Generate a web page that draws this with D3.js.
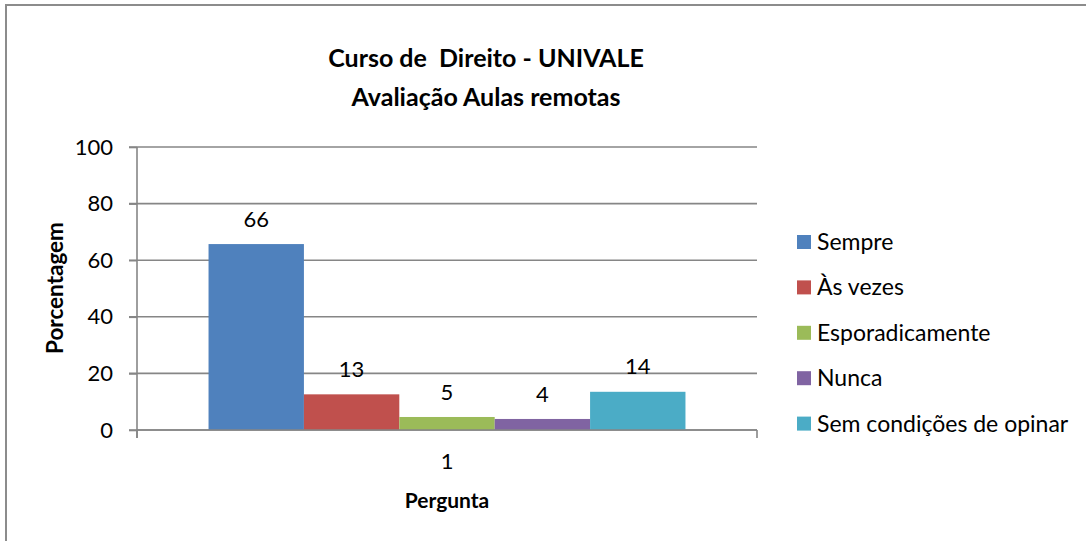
<!DOCTYPE html>
<html>
<head>
<meta charset="utf-8">
<script src="https://cdn.jsdelivr.net/npm/d3@7"></script>
<style>
  html, body { margin: 0; padding: 0; background: #fff; }
  svg { display: block; font-family: Lato, "Open Sans", sans-serif; }
</style>
</head>
<body>
<svg id="chart" width="1086" height="541"></svg>
<script>
const categories = ["1"];
const seriesNames = ["Sempre", "Às vezes", "Esporadicamente", "Nunca", "Sem condições de opinar"];
const seriesValues = [65.7, 12.6, 4.6, 3.9, 13.5];
const seriesLabels = ["66", "13", "5", "4", "14"];
const seriesColors = ["#4f81bd", "#c0504d", "#9bbb59", "#8064a2", "#4bacc6"];
const yTicks = [0, 20, 40, 60, 80, 100];
const titleLines = ["Curso de  Direito - UNIVALE", "Avaliação Aulas remotas"];
const yTitle = "Porcentagem";
const xTitle = "Pergunta";

(function () {
const svg = d3.select("#chart");
const gridColor = "#868686";

// outer border
svg.append("rect").attr("x", 6).attr("y", 5).attr("width", 1200).attr("height", 600)
  .attr("fill", "none").attr("stroke", "#8c8c8c").attr("stroke-width", 2);

const pLeft = 137, pRight = 757, pTop = 147, pBottom = 430;
const y = d3.scaleLinear().domain([0, 100]).range([pBottom, pTop]);
const x0 = d3.scaleBand().domain(categories).range([pLeft, pRight]).paddingInner(0).paddingOuter(0.15);
const x1 = d3.scaleBand().domain(seriesNames).range([0, x0.bandwidth()]).padding(0);

// gridlines
svg.append("g").selectAll("line").data(yTicks).join("line")
  .attr("x1", pLeft - 8).attr("x2", pRight)
  .attr("y1", d => y(d)).attr("y2", d => y(d))
  .attr("stroke", gridColor).attr("stroke-width", 1.6);

// y axis
const yAxis = svg.append("g").attr("transform", `translate(${pLeft},0)`)
  .call(d3.axisLeft(y).tickValues(yTicks).tickSize(8).tickPadding(16).tickSizeOuter(0));
yAxis.select(".domain").remove();
yAxis.selectAll(".tick line").attr("stroke", gridColor).attr("stroke-width", 1.6);
yAxis.selectAll(".tick text").attr("font-size", 22).attr("fill", "#000")
  .attr("font-family", "Lato, sans-serif");
svg.append("line").attr("x1", pLeft).attr("x2", pLeft).attr("y1", pTop).attr("y2", pBottom + 8)
  .attr("stroke", gridColor).attr("stroke-width", 1.6);

// bars
const groups = svg.append("g").selectAll("g").data(categories).join("g")
  .attr("transform", d => `translate(${x0(d)},0)`);
const barData = seriesNames.map((n, i) => ({ n, v: seriesValues[i], c: seriesColors[i], l: seriesLabels[i] }));
groups.selectAll("rect").data(barData).join("rect")
  .attr("x", d => x1(d.n)).attr("width", x1.bandwidth())
  .attr("y", d => y(d.v)).attr("height", d => y(0) - y(d.v))
  .attr("fill", d => d.c);
groups.selectAll("text").data(barData).join("text")
  .attr("x", d => x1(d.n) + x1.bandwidth() / 2)
  .attr("y", d => y(d.v) - 25)
  .attr("dy", "0.35em")
  .attr("text-anchor", "middle")
  .attr("font-size", 22).attr("fill", "#000")
  .text(d => d.l);

// x axis baseline + boundary ticks
svg.append("line").attr("x1", pLeft).attr("x2", pRight).attr("y1", pBottom).attr("y2", pBottom)
  .attr("stroke", gridColor).attr("stroke-width", 1.6);
svg.append("g").selectAll("line").data(x0.range()).join("line")
  .attr("x1", d => d).attr("x2", d => d).attr("y1", pBottom).attr("y2", pBottom + 8)
  .attr("stroke", gridColor).attr("stroke-width", 1.6);
const xAxis = svg.append("g").attr("transform", `translate(0,${pBottom})`)
  .call(d3.axisBottom(x0).tickSize(0).tickPadding(23));
xAxis.select(".domain").remove();
xAxis.selectAll(".tick text").attr("font-size", 22).attr("fill", "#000")
  .attr("font-family", "Lato, sans-serif");

// titles
svg.append("g").selectAll("text").data(titleLines).join("text")
  .attr("x", 486).attr("y", (d, i) => 58 + i * 39).attr("dy", "0.35em")
  .attr("text-anchor", "middle").attr("font-weight", "bold").attr("font-size", 25)
  .attr("xml:space", "preserve").style("white-space", "pre")
  .attr("fill", "#000").text(d => d);

svg.append("text").attr("transform", `translate(55,288) rotate(-90)`)
  .attr("dy", "0.35em").attr("text-anchor", "middle")
  .attr("font-weight", "bold").attr("font-size", 22.5).attr("fill", "#000").text(yTitle);

svg.append("text").attr("x", (pLeft + pRight) / 2).attr("y", 501).attr("dy", "0.35em")
  .attr("text-anchor", "middle").attr("font-weight", "bold").attr("font-size", 21)
  .attr("fill", "#000").text(xTitle);

// legend
const leg = svg.append("g").selectAll("g").data(seriesNames).join("g")
  .attr("transform", (d, i) => `translate(797,${242 + i * 45.4})`);
leg.append("rect").attr("x", 0).attr("y", -7).attr("width", 14).attr("height", 14)
  .attr("fill", (d, i) => seriesColors[i]);
leg.append("text").attr("x", 20).attr("y", 0).attr("dy", "0.35em")
  .attr("font-size", 23).attr("fill", "#000").text(d => d);
})();
</script>
</body>
</html>
